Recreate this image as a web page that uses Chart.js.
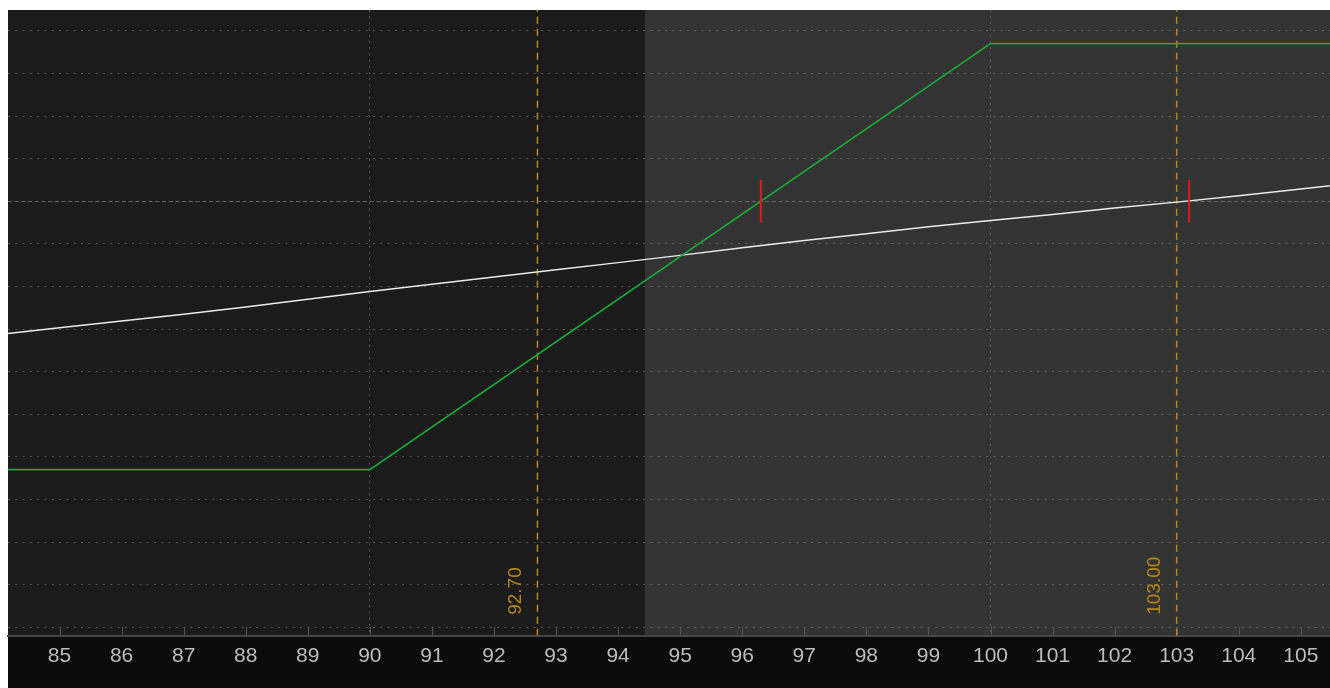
<!DOCTYPE html>
<html>
<head>
<meta charset="utf-8">
<script src="https://cdn.jsdelivr.net/npm/chart.js@4.4.1/dist/chart.umd.min.js"></script>
<style>
  html, body { margin: 0; padding: 0; background: #fff; }
  #chart { display: block; }
</style>
</head>
<body>
<canvas id="chart" width="1330" height="688"></canvas>
<script>
// price axis
const xMin = 84.17, xMax = 105.47;
const xTicks = [85, 86, 87, 88, 89, 90, 91, 92, 93, 94, 95, 96, 97, 98, 99, 100, 101, 102, 103, 104, 105];

// P/L axis (no labels shown, only grid)
const yMin = -1020, yMax = 449;
const yGrid = [-1000, -900, -800, -700, -600, -500, -400, -300, -200, -100, 0, 100, 200, 300, 400];

// P/L at expiration (green)
const expPrices = [84, 90, 100, 106];
const expPL = [-630, -630, 370, 370];

// P/L today (white)
const todayPrices = [84, 85, 86, 87, 88, 89, 90, 91, 92, 93, 94, 95, 96, 97, 98, 99, 100, 101, 102, 103, 104, 105, 106];
const todayPL = [-313, -297, -281, -265, -248, -230, -212, -195, -178, -161, -144, -127, -109, -92, -76, -60, -45, -31, -16, -2, 13, 29, 45];

// strike lines and their labels
const strikeLines = [92.70, 103.00];
const strikeLabels = ['92.70', '103.00'];

// breakeven markers
const breakevens = [96.30, 103.20];
const markerHalf = 50;

// price where the shaded region starts
const shadeSplit = 94.44;

const orange = 'rgb(184,134,11)';

const datasets = [];
breakevens.forEach(b => {
    datasets.push({
        data: [{x: b, y: -markerHalf}, {x: b, y: markerHalf}],
        borderColor: '#e01818',
        borderWidth: 2,
        order: 0
    });
});
datasets.push({
    data: expPrices.map((p, i) => ({x: p, y: expPL[i]})),
    borderColor: '#17a83a',
    borderWidth: 1.6,
    order: 1
});
datasets.push({
    data: todayPrices.map((p, i) => ({x: p, y: todayPL[i]})),
    borderColor: '#ececec',
    borderWidth: 1.5,
    order: 2
});
strikeLines.forEach(s => {
    datasets.push({
        data: [{x: s, y: yMin}, {x: s, y: yMax}],
        borderColor: orange,
        borderWidth: 1.5,
        borderDash: [7, 5],
        order: 3
    });
});

const backdrop = {
    id: 'backdrop',
    beforeDraw(chart) {
        const {ctx, chartArea: a, scales: {x}} = chart;
        ctx.save();
        ctx.fillStyle = '#fff';
        ctx.fillRect(0, 0, chart.width, chart.height);
        const split = Math.round(x.getPixelForValue(shadeSplit));
        ctx.fillStyle = '#1b1b1b';
        ctx.fillRect(a.left, a.top, a.right - a.left, a.bottom - a.top);
        ctx.fillStyle = '#333333';
        ctx.fillRect(split, a.top, a.right - split, a.bottom - a.top);
        ctx.fillStyle = '#0b0b0b';
        ctx.fillRect(a.left, a.bottom, a.right - a.left, chart.height - a.bottom);
        ctx.restore();
    },
    beforeDatasetsDraw(chart) {
        // small tick marks standing on the axis line
        const {ctx, chartArea: a, scales: {x}} = chart;
        ctx.save();
        ctx.strokeStyle = '#555';
        ctx.lineWidth = 1;
        xTicks.forEach(v => {
            const px = Math.round(x.getPixelForValue(v)) + 0.5;
            ctx.beginPath();
            ctx.moveTo(px, a.bottom - 9);
            ctx.lineTo(px, a.bottom);
            ctx.stroke();
        });
        ctx.restore();
    },
    afterDatasetsDraw(chart) {
        const {ctx, chartArea: a, scales: {x}} = chart;
        ctx.save();
        ctx.fillStyle = orange;
        ctx.font = '19px "Liberation Sans", Arial, sans-serif';
        ctx.textAlign = 'left';
        ctx.textBaseline = 'alphabetic';
        strikeLines.forEach((s, i) => {
            const px = x.getPixelForValue(s);
            ctx.save();
            ctx.translate(px - 16.5, a.bottom - 21);
            ctx.rotate(-Math.PI / 2);
            ctx.fillText(strikeLabels[i], 0, 0);
            ctx.restore();
        });
        ctx.restore();
    }
};

new Chart(document.getElementById('chart'), {
    type: 'line',
    data: { datasets: datasets },
    options: {
        responsive: false,
        animation: false,
        devicePixelRatio: 1,
        layout: { padding: { left: 8, top: 10, right: 0, bottom: 11 } },
        elements: {
            point: { radius: 0, hoverRadius: 0 },
            line: { tension: 0, fill: false }
        },
        datasets: { line: { clip: 0 } },
        plugins: {
            legend: { display: false },
            tooltip: { enabled: false }
        },
        scales: {
            x: {
                type: 'linear',
                min: xMin,
                max: xMax,
                offset: false,
                afterBuildTicks: s => { s.ticks = xTicks.map(v => ({value: v})); },
                grid: {
                    drawTicks: false,
                    lineWidth: 1,
                    color: c => (c.tick && c.tick.value % 10 === 0) ? 'rgba(130,130,130,0.6)' : 'rgba(0,0,0,0)'
                },
                border: { display: true, color: '#444', width: 2, dash: [2, 4.2] },
                ticks: {
                    autoSkip: false,
                    maxRotation: 0,
                    padding: 8,
                    color: '#bcbcbc',
                    font: { family: '"Liberation Sans", Arial, sans-serif', size: 21 },
                    callback: v => String(v)
                }
            },
            y: {
                type: 'linear',
                min: yMin,
                max: yMax,
                afterBuildTicks: s => { s.ticks = yGrid.map(v => ({value: v})); },
                grid: {
                    drawTicks: false,
                    lineWidth: 1,
                    color: c => (c.tick && c.tick.value === 0) ? '#6a6a6a' : 'rgba(130,130,130,0.6)'
                },
                border: {
                    display: false,
                    dash: c => (c.tick && c.tick.value === 0) ? [4, 2.7] : [2, 5.3]
                },
                ticks: { display: false }
            }
        }
    },
    plugins: [backdrop]
});
</script>
</body>
</html>
